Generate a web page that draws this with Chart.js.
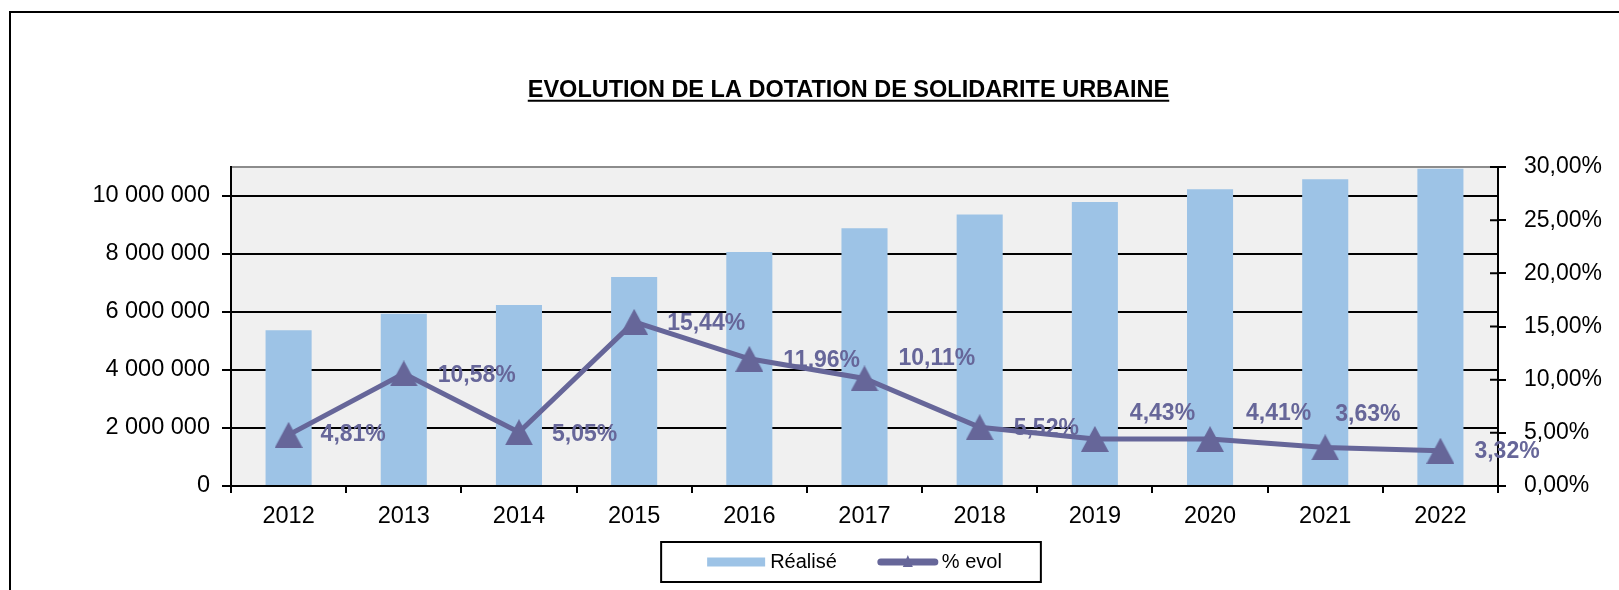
<!DOCTYPE html>
<html lang="fr">
<head>
<meta charset="utf-8">
<title>Evolution de la DSU</title>
<script src="https://cdn.jsdelivr.net/npm/chart.js@4.4.1/dist/chart.umd.min.js"></script>
<style>
  html, body { margin: 0; padding: 0; background: #fff; }
  #wrap { width: 1619px; height: 590px; }
</style>
</head>
<body>
<div id="wrap"><canvas id="dsuChart" width="1619" height="590"></canvas></div>
<script>
// Données
const annees = ['2012', '2013', '2014', '2015', '2016', '2017', '2018', '2019', '2020', '2021', '2022'];
const realise = [5370000, 5940000, 6240000, 7210000, 8070000, 8890000, 9360000, 9790000, 10230000, 10580000, 10940000];
const evolPct = [4.81, 10.58, 5.05, 15.44, 11.96, 10.11, 5.52, 4.43, 4.41, 3.63, 3.32];
const ticksMontants = [0, 2000000, 4000000, 6000000, 8000000, 10000000];

// décalage (dx, dy) des étiquettes de % par rapport à leur point
const decalEtiquettes = [[32, 0], [34, 2], [33, 2], [33, 2], [34, 2], [34, -20], [34, 1], [35, -25], [36, -25], [10, -33], [34, 1]];

const BLEU = '#9DC3E6';
const VIOLET = '#666699';
const POLICE = "'Liberation Sans', Arial, sans-serif";

const fmtMontant = v => Math.round(v).toString().replace(/\B(?=(\d{3})+(?!\d))/g, ' ');
const fmtPct = v => v.toFixed(2).replace('.', ',') + '%';

// marqueur triangle centré sur le point
function triangleMarqueur(w, h, couleur) {
    const c = document.createElement('canvas');
    c.width = w;
    c.height = h;
    const g = c.getContext('2d');
    g.fillStyle = couleur;
    g.beginPath();
    g.moveTo(w / 2, 0);
    g.lineTo(w, h);
    g.lineTo(0, h);
    g.closePath();
    g.fill();
    return c;
}

// cadre extérieur + fond gris de la zone de tracé
const fondPlugin = {
    id: 'fond',
    beforeDraw(chart) {
        const { ctx, chartArea: a } = chart;
        ctx.save();
        ctx.fillStyle = '#fff';
        ctx.fillRect(0, 0, chart.width, chart.height);
        ctx.strokeStyle = '#000';
        ctx.lineWidth = 2;
        ctx.beginPath();
        ctx.moveTo(10, chart.height);
        ctx.lineTo(10, 12);
        ctx.lineTo(chart.width, 12);
        ctx.stroke();
        ctx.fillStyle = '#F0F0F0';
        ctx.fillRect(a.left, a.top, a.right - a.left, a.bottom - a.top);
        ctx.strokeStyle = '#8C8C8C';
        ctx.beginPath();
        ctx.moveTo(a.left, a.top);
        ctx.lineTo(a.right, a.top);
        ctx.stroke();
        ctx.restore();
    }
};

// titre souligné + graduations croisées sur l'axe de droite
const decorPlugin = {
    id: 'decor',
    afterDraw(chart) {
        const { ctx } = chart;
        const t = chart.titleBlock;
        ctx.save();
        ctx.strokeStyle = '#000';
        ctx.lineWidth = 2;
        if (t) {
            const opts = t.options;
            ctx.font = `bold ${opts.font.size}px ${POLICE}`;
            const w = ctx.measureText(opts.text).width;
            const cx = (t.left + t.right) / 2;
            const y = t.top + opts.padding.top + opts.font.size * 1.2 / 2 + opts.font.size * 0.45;
            ctx.beginPath();
            ctx.moveTo(cx - w / 2, y);
            ctx.lineTo(cx + w / 2, y);
            ctx.stroke();
        }
        const s = chart.scales.y1;
        ctx.beginPath();
        s.ticks.forEach(tk => {
            const y = s.getPixelForValue(tk.value);
            ctx.moveTo(s.left - 8, y);
            ctx.lineTo(s.left, y);
        });
        ctx.stroke();
        ctx.restore();
    }
};

// étiquettes de % (sous la courbe, au-dessus des barres)
const etiquettesPlugin = {
    id: 'etiquettes',
    afterDatasetDraw(chart, args) {
        if (args.meta.type !== 'bar') return;
        const meta = chart.getDatasetMeta(1);
        const { ctx } = chart;
        ctx.save();
        ctx.font = `bold 23px ${POLICE}`;
        ctx.fillStyle = VIOLET;
        ctx.textAlign = 'left';
        ctx.textBaseline = 'middle';
        meta.data.forEach((pt, i) => {
            const [dx, dy] = decalEtiquettes[i];
            ctx.fillText(fmtPct(evolPct[i]), pt.x + dx, pt.y + dy);
        });
        ctx.restore();
    }
};

// légende encadrée sous le graphique
const legendePlugin = {
    id: 'legende',
    afterDraw(chart) {
        const { ctx } = chart;
        const [dsBar, dsLigne] = chart.data.datasets;
        const cy = 562;
        ctx.save();
        ctx.font = `20px ${POLICE}`;
        ctx.textBaseline = 'middle';
        ctx.fillStyle = '#000';
        const w1 = ctx.measureText(dsBar.label).width;
        const w2 = ctx.measureText(dsLigne.label).width;
        const total = 46 + 58 + 5 + w1 + 41 + 60 + 4 + w2 + 39;
        let x = 851 - total / 2;
        ctx.strokeStyle = '#000';
        ctx.lineWidth = 2;
        ctx.strokeRect(x, cy - 20, total, 40);
        x += 46;
        ctx.fillStyle = dsBar.backgroundColor;
        ctx.fillRect(x, cy - 4.5, 58, 9);
        x += 63;
        ctx.fillStyle = '#000';
        ctx.fillText(dsBar.label, x, cy);
        x += w1 + 41;
        ctx.strokeStyle = dsLigne.borderColor;
        ctx.lineWidth = 7;
        ctx.lineCap = 'round';
        ctx.beginPath();
        ctx.moveTo(x + 3, cy);
        ctx.lineTo(x + 57, cy);
        ctx.stroke();
        ctx.fillStyle = dsLigne.borderColor;
        ctx.beginPath();
        ctx.moveTo(x + 30, cy - 7);
        ctx.lineTo(x + 35, cy + 5);
        ctx.lineTo(x + 25, cy + 5);
        ctx.closePath();
        ctx.fill();
        x += 64;
        ctx.fillStyle = '#000';
        ctx.fillText(dsLigne.label, x, cy);
        ctx.restore();
    }
};

Chart.defaults.font.family = POLICE;
Chart.defaults.color = '#000';

new Chart(document.getElementById('dsuChart'), {
    type: 'bar',
    data: {
        labels: annees,
        datasets: [
            {
                type: 'bar',
                label: 'Réalisé',
                data: realise,
                backgroundColor: BLEU,
                yAxisID: 'y',
                barPercentage: 0.4,
                categoryPercentage: 1,
                order: 1
            },
            {
                type: 'line',
                label: '% evol',
                data: evolPct,
                borderColor: VIOLET,
                backgroundColor: VIOLET,
                borderWidth: 5,
                pointStyle: triangleMarqueur(28, 26, VIOLET),
                pointRadius: 14,
                tension: 0,
                yAxisID: 'y1',
                order: 0
            }
        ]
    },
    options: {
        responsive: false,
        animation: false,
        layout: { padding: { left: 78, right: 0, top: 0, bottom: 55 } },
        plugins: {
            title: {
                display: true,
                text: 'EVOLUTION DE LA DOTATION DE SOLIDARITE URBAINE',
                font: { size: 23.5, weight: 'bold' },
                color: '#000',
                padding: { top: 76, bottom: 62.8 }
            },
            legend: { display: false },
            tooltip: { enabled: false }
        },
        scales: {
            x: {
                grid: { drawOnChartArea: false, drawTicks: true, tickLength: 7, color: '#000', lineWidth: 2, offset: true },
                border: { color: '#000', width: 2 },
                ticks: { font: { size: 23.5 }, padding: 9, maxRotation: 0 },
                afterFit: s => { s.height = 49; }
            },
            y: {
                position: 'left',
                min: 0,
                max: 11000000,
                ticks: {
                    font: { size: 23.5 },
                    padding: 12,
                    callback: v => fmtMontant(v)
                },
                afterBuildTicks: s => { s.ticks = ticksMontants.map(v => ({ value: v })); },
                grid: { color: '#000', lineWidth: 2, tickLength: 9 },
                border: { color: '#000', width: 2 },
                afterFit: s => { s.width = 153; }
            },
            y1: {
                position: 'right',
                min: 0,
                max: 30,
                ticks: {
                    stepSize: 5,
                    font: { size: 23 },
                    padding: 18,
                    callback: v => fmtPct(v)
                },
                grid: { drawOnChartArea: false, color: '#000', lineWidth: 2, tickLength: 8 },
                border: { color: '#000', width: 2 },
                afterFit: s => { s.width = 121; }
            }
        }
    },
    plugins: [fondPlugin, decorPlugin, etiquettesPlugin, legendePlugin]
});
</script>
</body>
</html>
